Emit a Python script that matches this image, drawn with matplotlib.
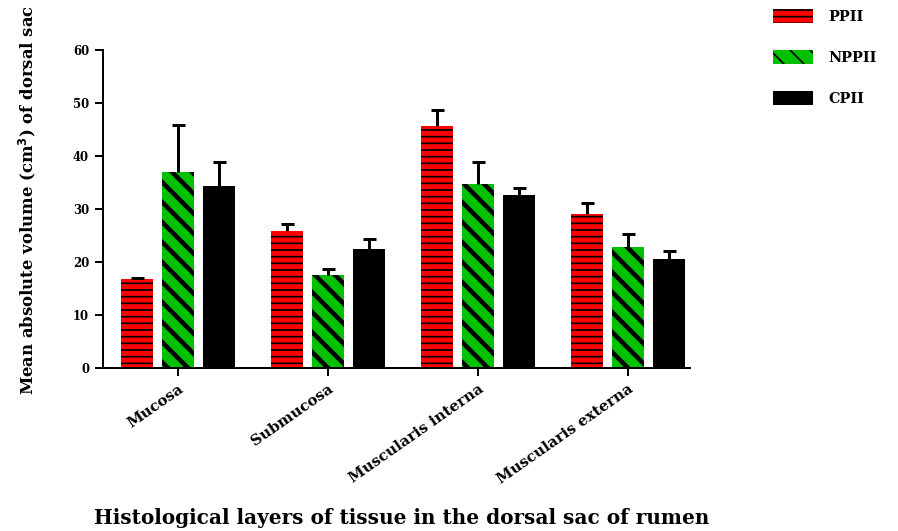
import numpy as np
import matplotlib
matplotlib.use("Agg")
import matplotlib.pyplot as plt
from matplotlib.patches import Patch
from matplotlib import transforms

# Mean absolute volume (cm^3) of each tissue layer, with upper error (SEM)
layers = ["Mucosa", "Submucosa", "Muscularis interna", "Muscularis externa"]
series = ["PPII", "NPPII", "CPII"]
ppii_mean = [16.8, 25.8, 45.7, 29.1]
ppii_err = [0.2, 1.4, 3.0, 2.0]
nppii_mean = [37.0, 17.6, 34.8, 22.9]
nppii_err = [8.8, 1.0, 4.0, 2.3]
cpii_mean = [34.4, 22.4, 32.7, 20.5]
cpii_err = [4.5, 1.9, 1.3, 1.5]
y_ticks = [0, 10, 20, 30, 40, 50, 60]

DPI = 120
W, H = 898, 531
px = 72.0 / DPI  # points per pixel

plt.rcParams["font.family"] = ["DejaVu Serif"]
plt.rcParams["font.weight"] = "bold"

fig = plt.figure(figsize=(W / DPI, H / DPI), dpi=DPI)
ax = fig.add_axes([103 / W, 1 - 368 / H, (690 - 103) / W, (368 - 50) / H])

x = np.arange(len(layers))
offset = 0.273
width = 0.213

styles = [
    dict(color="#ff0000", hatch="---", hlw=1.7 * px),
    dict(color="#00c000", hatch="\\\\", hlw=4.5 * px),
    dict(color="#000000", hatch="", hlw=1.0),
]
means = [ppii_mean, nppii_mean, cpii_mean]
errs = [ppii_err, nppii_err, cpii_err]

for k, (m, e, st) in enumerate(zip(means, errs, styles)):
    xs = x + (k - 1) * offset
    with plt.rc_context({"hatch.linewidth": st["hlw"], "hatch.color": "black"}):
        ax.bar(xs, m, width=width, color=st["color"], edgecolor="black",
               linewidth=0, hatch=st["hatch"] or None, zorder=2)
    top = np.array(m) + np.array(e)
    ax.vlines(xs, m, top, color="black", linewidth=3 * px, zorder=3)
    ax.plot(xs, top, linestyle="none", marker="_", markersize=13 * px,
            markeredgewidth=3 * px, color="black", zorder=3)

ax.set_xlim(-0.5, 0.413 + len(layers) - 1)
ax.set_ylim(0, 60)
ax.set_yticks(y_ticks)
ax.set_yticklabels([str(t) for t in y_ticks], fontsize=7.0, fontweight="bold")
ax.set_xticks(x)
ax.set_xticklabels(layers, rotation=35, ha="right", va="top",
                   rotation_mode="anchor", fontsize=9.0, fontweight="bold")
off = transforms.ScaledTranslation(9 / DPI, -16 / DPI, fig.dpi_scale_trans)
for lbl in ax.get_xticklabels():
    lbl.set_transform(lbl.get_transform() + off)

for side in ("top", "right"):
    ax.spines[side].set_visible(False)
for side in ("left", "bottom"):
    ax.spines[side].set_linewidth(2 * px)
ax.tick_params(axis="both", direction="out", length=8 * px, width=2 * px,
               pad=6 * px)

fig.text(28 / W, 1 - 200 / H, "Mean absolute volume (cm$^{3}$) of dorsal sac",
         rotation=90, ha="center", va="center", fontsize=9.9, fontweight="bold")
fig.text(402 / W, 1 - 518 / H,
         "Histological layers of tissue in the dorsal sac of rumen",
         ha="center", va="center", fontsize=12.0, fontweight="bold")

handles = []
for st, name in zip(styles, series):
    with plt.rc_context({"hatch.linewidth": st["hlw"], "hatch.color": "black"}):
        handles.append(Patch(facecolor=st["color"], edgecolor="black",
                             linewidth=0, hatch=st["hatch"] or None, label=name))
leg = fig.legend(handles=handles, loc="upper left",
                 bbox_to_anchor=(760 / W, 1 + 4 / H), frameon=False,
                 prop={"family": "DejaVu Serif", "weight": "bold", "size": 8.6},
                 handlelength=2.8, handleheight=1.1, handletextpad=1.1,
                 labelspacing=1.85)

fig.savefig("out.png", dpi=DPI)
